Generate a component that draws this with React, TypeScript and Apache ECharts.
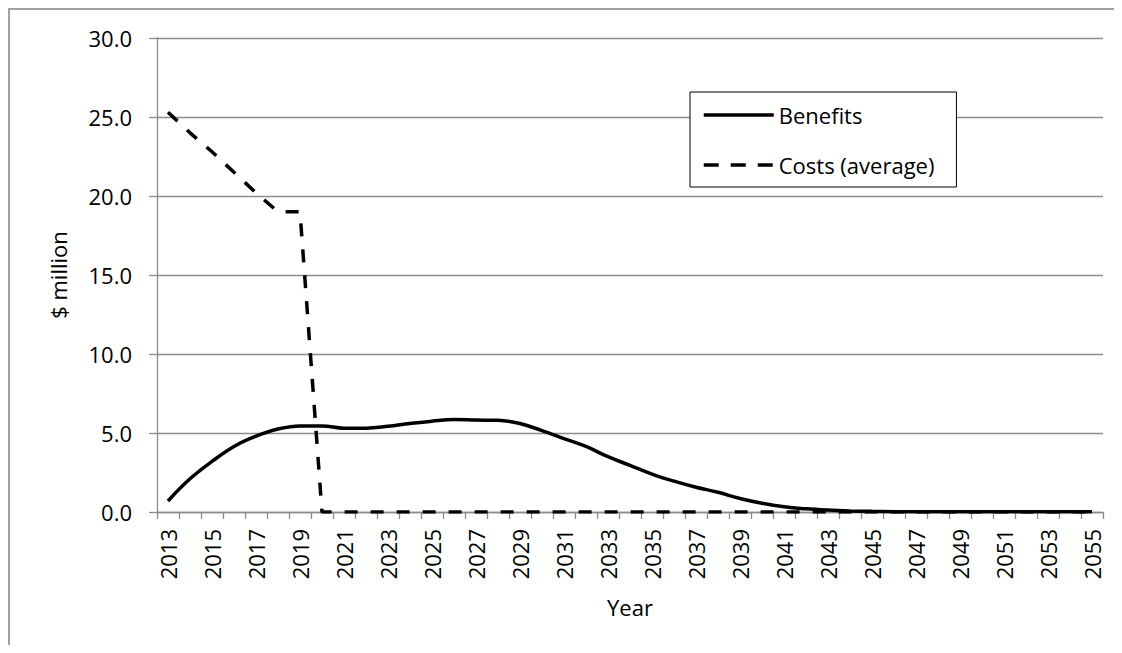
import React, { useEffect, useRef } from "react";
import * as echarts from "echarts";

const years = [
  "2013", "2014", "2015", "2016", "2017", "2018", "2019", "2020", "2021", "2022",
  "2023", "2024", "2025", "2026", "2027", "2028", "2029", "2030", "2031", "2032",
  "2033", "2034", "2035", "2036", "2037", "2038", "2039", "2040", "2041", "2042",
  "2043", "2044", "2045", "2046", "2047", "2048", "2049", "2050", "2051", "2052",
  "2053", "2054", "2055",
];

const benefits = [
  0.7, 2.1, 3.2, 4.15, 4.8, 5.25, 5.45, 5.45, 5.3, 5.3,
  5.42, 5.6, 5.75, 5.85, 5.82, 5.8, 5.6, 5.15, 4.65, 4.15,
  3.5, 2.95, 2.4, 1.95, 1.57, 1.25, 0.85, 0.55, 0.33, 0.2,
  0.12, 0.07, 0.04, 0.02, 0.01, 0.01, 0.01, 0.01, 0.01, 0.01,
  0.01, 0.01, 0.01,
];

const costs = [
  25.3, 24.0, 22.8, 21.5, 20.2, 19.0, 19.0, 0, 0, 0,
  0, 0, 0, 0, 0, 0, 0, 0, 0, 0,
  0, 0, 0, 0, 0, 0, 0, 0, 0, 0,
  0, 0, 0, 0, 0, 0, 0, 0, 0, 0,
  0, 0, 0,
];

const FONT = "'Open Sans', sans-serif";
const GRID_COLOR = "#8c8c8c";

export default function App() {
  const ref = useRef<HTMLDivElement>(null);

  useEffect(() => {
    if (!ref.current) return;
    const chart = echarts.init(ref.current, null, { renderer: "svg" });
    chart.setOption({
      animation: false,
      backgroundColor: "#ffffff",
      textStyle: { fontFamily: FONT, color: "#000" },
      graphic: [
        {
          type: "line",
          shape: { x1: 0, y1: 1, x2: 1106, y2: 1 },
          style: { stroke: "#a0a0a0", lineWidth: 2 },
        },
        {
          type: "line",
          shape: { x1: 1, y1: 0, x2: 1, y2: 637 },
          style: { stroke: "#a0a0a0", lineWidth: 2 },
        },
      ],
      grid: { left: 149, top: 30, width: 946, height: 474, containLabel: false },
      legend: {
        orient: "vertical",
        left: 682,
        top: 84,
        backgroundColor: "#fff",
        borderColor: "#000",
        borderWidth: 1,
        padding: [10, 22, 9, 12],
        itemGap: 24,
        itemWidth: 70,
        itemHeight: 14,
        itemStyle: { opacity: 0 },
        textStyle: { fontFamily: FONT, fontSize: 22, color: "#000", lineHeight: 26 },
        data: [
          { name: "Benefits", lineStyle: { color: "#000", width: 3.5, type: "solid" } },
          { name: "Costs (average)", lineStyle: { color: "#000", width: 3.5, type: [15, 12] } },
        ],
      },
      xAxis: {
        type: "category",
        data: years,
        boundaryGap: true,
        name: "Year",
        nameLocation: "middle",
        nameGap: 84,
        nameTextStyle: { fontFamily: FONT, fontSize: 22, color: "#000" },
        axisLine: { lineStyle: { color: GRID_COLOR, width: 1.3 } },
        axisTick: { show: true, interval: 0, length: 7, lineStyle: { color: GRID_COLOR, width: 1.3 } },
        axisLabel: {
          interval: 1,
          rotate: 90,
          margin: 17,
          fontFamily: FONT,
          fontSize: 22,
          color: "#000",
        },
        splitLine: { show: false },
      },
      yAxis: {
        type: "value",
        min: 0,
        max: 30,
        interval: 5,
        name: "$ million",
        nameLocation: "middle",
        nameGap: 88,
        nameTextStyle: { fontFamily: FONT, fontSize: 22, color: "#000" },
        axisLine: { show: true, lineStyle: { color: GRID_COLOR, width: 1.3 } },
        axisTick: { show: true, length: 8, lineStyle: { color: GRID_COLOR, width: 1.3 } },
        axisLabel: {
          margin: 25,
          fontFamily: FONT,
          fontSize: 22,
          color: "#000",
          formatter: (v: number) => v.toFixed(1),
        },
        splitLine: { show: true, lineStyle: { color: GRID_COLOR, width: 1.3 } },
      },
      series: [
        {
          name: "Benefits",
          type: "line",
          data: benefits,
          smooth: 0.4,
          symbol: "none",
          z: 3,
          lineStyle: { color: "#000", width: 3.5 },
          itemStyle: { color: "#000" },
        },
        {
          name: "Costs (average)",
          type: "line",
          data: costs,
          symbol: "none",
          z: 2,
          lineStyle: { color: "#000", width: 3.5, type: [13, 13] },
          itemStyle: { color: "#000" },
        },
      ],
    });
    return () => chart.dispose();
  }, []);

  return <div ref={ref} style={{ width: 1106, height: 637 }} />;
}
